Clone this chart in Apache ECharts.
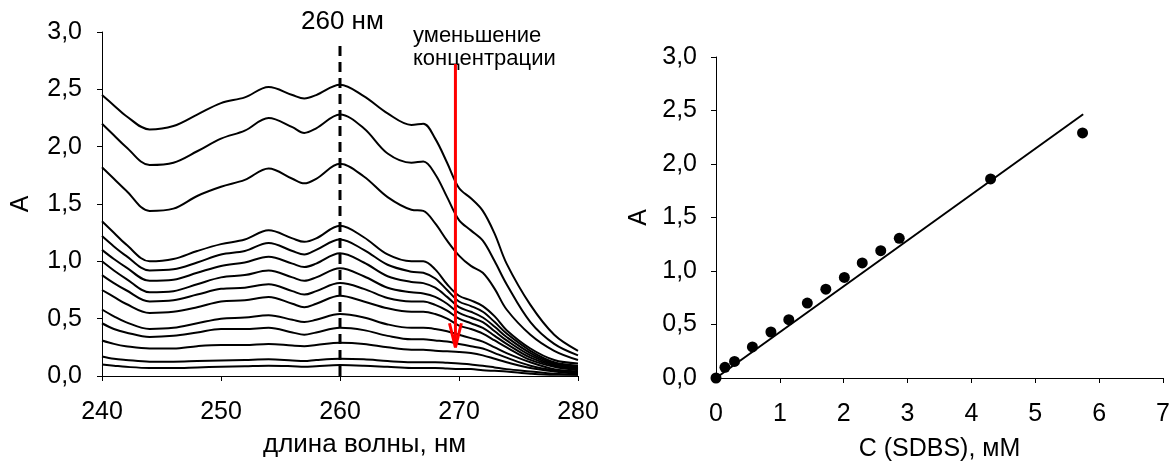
<!DOCTYPE html>
<html>
<head>
<meta charset="utf-8">
<script src="https://cdn.jsdelivr.net/npm/echarts@6/dist/echarts.min.js"></script>
<style>
html,body{margin:0;padding:0;background:#fff;}
#chart{width:1171px;height:462px;}
</style>
</head>
<body>
<div id="chart"></div>
<script>
// ---------- data: left panel (UV spectra) ----------
const wavelengths = [240,241,242,244,246,248,250,252,254,256,257,258,260,262,264,266,267,268,269,270,271,272,273,274,276,278,280];
const spectrum1  = [2.45,2.36,2.27,2.15,2.18,2.28,2.38,2.43,2.52,2.45,2.42,2.45,2.54,2.44,2.29,2.19,2.20,2.07,1.86,1.64,1.55,1.44,1.24,0.98,0.62,0.36,0.22];
const spectrum2  = [2.20,2.10,2.00,1.84,1.86,1.96,2.07,2.14,2.25,2.17,2.12,2.16,2.28,2.16,1.94,1.86,1.87,1.76,1.56,1.36,1.27,1.18,1.00,0.80,0.47,0.28,0.18];
const spectrum3  = [1.82,1.72,1.62,1.44,1.46,1.57,1.65,1.71,1.81,1.72,1.68,1.72,1.85,1.74,1.56,1.45,1.44,1.33,1.18,1.05,0.96,0.90,0.76,0.58,0.36,0.22,0.14];
const spectrum4  = [1.35,1.25,1.15,1.00,1.02,1.09,1.15,1.19,1.27,1.20,1.17,1.20,1.31,1.21,1.06,1.00,1.00,0.93,0.80,0.70,0.66,0.61,0.52,0.40,0.24,0.14,0.11];
const spectrum5  = [1.22,1.13,1.05,0.92,0.93,0.99,1.06,1.09,1.16,1.09,1.06,1.10,1.19,1.10,0.97,0.91,0.90,0.85,0.75,0.65,0.61,0.56,0.47,0.37,0.22,0.12,0.09];
const spectrum6  = [1.10,1.02,0.95,0.83,0.84,0.90,0.96,0.99,1.04,0.98,0.95,0.98,1.07,0.99,0.87,0.82,0.81,0.77,0.69,0.60,0.56,0.51,0.43,0.34,0.20,0.11,0.08];
const spectrum7  = [1.00,0.92,0.85,0.73,0.74,0.80,0.86,0.88,0.92,0.86,0.83,0.86,0.94,0.87,0.77,0.73,0.72,0.69,0.63,0.55,0.51,0.47,0.39,0.31,0.18,0.10,0.07];
const spectrum8  = [0.88,0.81,0.75,0.65,0.66,0.71,0.76,0.77,0.80,0.74,0.71,0.74,0.81,0.76,0.68,0.65,0.65,0.62,0.57,0.50,0.46,0.42,0.35,0.28,0.16,0.09,0.06];
const spectrum9  = [0.75,0.69,0.63,0.55,0.56,0.60,0.65,0.66,0.69,0.63,0.60,0.63,0.70,0.65,0.59,0.56,0.56,0.54,0.50,0.44,0.41,0.37,0.31,0.25,0.14,0.08,0.05];
const spectrum10 = [0.58,0.52,0.47,0.41,0.42,0.46,0.50,0.51,0.53,0.49,0.47,0.49,0.54,0.51,0.45,0.42,0.42,0.41,0.39,0.36,0.33,0.30,0.25,0.20,0.12,0.06,0.04];
const spectrum11 = [0.46,0.41,0.38,0.34,0.35,0.38,0.41,0.41,0.42,0.38,0.36,0.38,0.42,0.40,0.35,0.32,0.32,0.31,0.30,0.28,0.26,0.24,0.20,0.16,0.09,0.05,0.03];
const spectrum12 = [0.31,0.28,0.26,0.24,0.24,0.26,0.27,0.27,0.28,0.265,0.26,0.27,0.29,0.28,0.25,0.23,0.23,0.22,0.215,0.21,0.20,0.18,0.15,0.12,0.07,0.04,0.02];
const spectrum13 = [0.17,0.15,0.14,0.125,0.125,0.13,0.135,0.14,0.145,0.135,0.13,0.14,0.15,0.145,0.13,0.12,0.12,0.12,0.115,0.11,0.10,0.09,0.075,0.06,0.04,0.02,0.01];
const spectrum14 = [0.10,0.09,0.08,0.07,0.07,0.075,0.08,0.085,0.09,0.085,0.08,0.085,0.095,0.09,0.08,0.07,0.07,0.07,0.065,0.06,0.06,0.05,0.045,0.04,0.02,0.01,0.01];
const spectra = [spectrum1,spectrum2,spectrum3,spectrum4,spectrum5,spectrum6,spectrum7,spectrum8,spectrum9,spectrum10,spectrum11,spectrum12,spectrum13,spectrum14];

const markerWavelength = 260;      // dashed line
const markerTop = 2.90;
const arrowX = 269.7;               // red arrow "уменьшение концентрации"
const arrowTop = 2.72;
const arrowTip = 0.25;
const arrowHeadX = [269.2, 269.7, 270.2];
const arrowHeadY = [0.46, 0.25, 0.46];

const leftXTicks = [240, 250, 260, 270, 280];
const leftYTicks = [0, 0.5, 1.0, 1.5, 2.0, 2.5, 3.0];

// ---------- data: right panel (calibration) ----------
const concentration = [0,0.14,0.29,0.57,0.86,1.14,1.43,1.72,2.01,2.29,2.58,2.87,4.30,5.74];
const absorbance    = [0,0.10,0.155,0.29,0.43,0.545,0.70,0.83,0.94,1.075,1.19,1.305,1.86,2.29];
const fitX = [0, 5.75];
const fitY = [0, 2.465];
const rightXTicks = [0,1,2,3,4,5,6,7];

// ---------- build ----------
const FONT = 'Liberation Sans, Arial, sans-serif';
const FS = 25;
const TXT = '#000';
const comma = v => v.toFixed(1).replace('.', ',');
const axisCommon = {
  axisLine: {show: true, lineStyle: {color: '#000', width: 1}},
  axisTick: {show: true, length: 5, lineStyle: {color: '#000', width: 1}},
  splitLine: {show: false},
};
const nameStyle = {fontSize: FS, color: TXT, fontFamily: FONT};

const series = [];
spectra.forEach((s, i) => {
  series.push({
    type: 'line', xAxisIndex: 0, yAxisIndex: 0, smooth: 0.35, symbol: 'none',
    lineStyle: {color: '#000', width: 2}, silent: true, z: 2,
    data: wavelengths.map((w, k) => [w, s[k]])
  });
});
series.push({
  type: 'line', xAxisIndex: 0, yAxisIndex: 0, symbol: 'none', silent: true, z: 3,
  lineStyle: {color: '#000', width: 3, type: [10, 6]},
  data: [[markerWavelength, 0], [markerWavelength, markerTop]]
});
series.push({
  type: 'line', xAxisIndex: 0, yAxisIndex: 0, symbol: 'none', silent: true, z: 4,
  lineStyle: {color: '#ff0000', width: 3},
  data: [[arrowX, arrowTop], [arrowX, arrowTip]]
});
series.push({
  type: 'line', xAxisIndex: 0, yAxisIndex: 0, symbol: 'none', silent: true, z: 4,
  lineStyle: {color: '#ff0000', width: 3},
  data: arrowHeadX.map((x, k) => [x, arrowHeadY[k]])
});
series.push({
  type: 'line', xAxisIndex: 1, yAxisIndex: 1, symbol: 'none', silent: true, z: 2,
  lineStyle: {color: '#000', width: 2},
  data: fitX.map((x, k) => [x, fitY[k]])
});
series.push({
  type: 'scatter', xAxisIndex: 1, yAxisIndex: 1, symbol: 'circle', symbolSize: 11, silent: true, z: 3,
  itemStyle: {color: '#000', opacity: 1},
  data: concentration.map((c, k) => [c, absorbance[k]])
});

const option = {
  animation: false,
  backgroundColor: '#fff',
  textStyle: {fontFamily: FONT, color: TXT},
  grid: [
    {left: 102, right: 593, top: 32, bottom: 86, containLabel: false, outerBoundsMode: 'none'},
    {left: 716, right: 8, top: 57, bottom: 84, containLabel: false, outerBoundsMode: 'none'}
  ],
  xAxis: [
    Object.assign({}, axisCommon, {
      gridIndex: 0, type: 'value', min: leftXTicks[0], max: leftXTicks[leftXTicks.length-1], interval: 10,
      axisLabel: {fontSize: FS, color: TXT, margin: 24, fontFamily: FONT}
    }),
    Object.assign({}, axisCommon, {
      gridIndex: 1, type: 'value', min: rightXTicks[0], max: rightXTicks[rightXTicks.length-1], interval: 1,
      name: 'C (SDBS), мМ', nameLocation: 'middle', nameGap: 59, nameTextStyle: nameStyle,
      axisLabel: {fontSize: FS, color: TXT, margin: 24, fontFamily: FONT}
    })
  ],
  yAxis: [
    Object.assign({}, axisCommon, {
      gridIndex: 0, type: 'value', min: leftYTicks[0], max: leftYTicks[leftYTicks.length-1], interval: 0.5,
      name: 'A', nameLocation: 'middle', nameGap: 68, nameRotate: 90, nameTextStyle: nameStyle,
      axisLabel: {fontSize: FS, color: TXT, margin: 20, fontFamily: FONT, formatter: comma}
    }),
    Object.assign({}, axisCommon, {
      gridIndex: 1, type: 'value', min: 0, max: 3, interval: 0.5,
      name: 'A', nameLocation: 'middle', nameGap: 64, nameRotate: 90, nameTextStyle: nameStyle,
      axisLabel: {fontSize: FS, color: TXT, margin: 19, fontFamily: FONT, formatter: comma}
    })
  ],
  graphic: [
    {type: 'text', left: 301, top: 9, silent: true,
     style: {text: '260 нм', font: '26px ' + FONT, fill: TXT}},
    {type: 'text', left: 413, top: 24, silent: true,
     style: {text: 'уменьшение\nконцентрации', font: '22px ' + FONT, fill: TXT, lineHeight: 23}},
    {type: 'text', left: 263, top: 432, silent: true,
     style: {text: 'длина волны, нм', font: '26px ' + FONT, fill: TXT}}
  ],
  series: series
};

const chart = echarts.init(document.getElementById('chart'), null, {renderer: 'canvas'});
chart.setOption(option);
</script>
</body>
</html>
